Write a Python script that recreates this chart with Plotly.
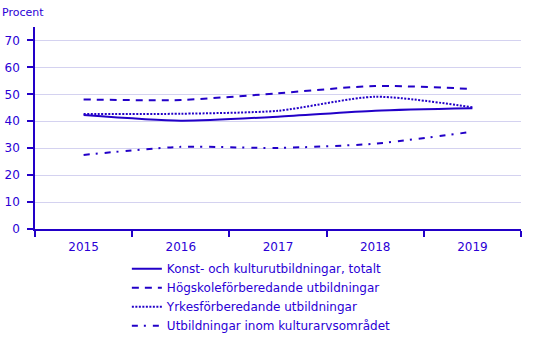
import plotly.graph_objects as go

years = [2015, 2016, 2017, 2018, 2019]
year_labels = ["2015", "2016", "2017", "2018", "2019"]
totalt = [42.3, 40.2, 41.7, 43.9, 44.8]
hogskole = [48.1, 47.9, 50.4, 53.1, 52.0]
yrkes = [42.7, 42.8, 43.9, 49.1, 45.2]
kulturarv = [27.5, 30.5, 30.1, 31.7, 36.1]

names = [
    "Konst- och kulturutbildningar, totalt",
    "Högskoleförberedande utbildningar",
    "Yrkesförberedande utbildningar",
    "Utbildningar inom kulturarvsområdet",
]
series = [totalt, hogskole, yrkes, kulturarv]
dashes = ["solid", "7px,6px", "2px,1.5px", "6px,6px,2px,7px"]

line_color = "#2200c8"
text_color = "#2a00d6"
grid_color = "#d4d2f0"
font_family = "DejaVu Sans, Liberation Sans, Arial, sans-serif"

# boundaries between the yearly categories, where the x ticks sit
bounds = [y - 0.5 for y in years] + [years[-1] + 0.5]

fig = go.Figure()
for name, vals, dash in zip(names, series, dashes):
    fig.add_trace(go.Scatter(
        x=years, y=vals, name=name, mode="lines",
        line=dict(color=line_color, width=2, dash=dash, shape="spline", smoothing=0.7),
    ))

fig.update_layout(
    width=538, height=337,
    margin=dict(l=35, r=17, t=27, b=108, autoexpand=False),
    plot_bgcolor="white", paper_bgcolor="white",
    font=dict(family=font_family, size=12, color=text_color),
    showlegend=True,
    legend=dict(
        x=0.189, y=-0.125, xanchor="left", yanchor="top",
        font=dict(size=12, color=text_color),
        tracegroupgap=0, itemwidth=30,
        bgcolor="rgba(0,0,0,0)",
    ),
    annotations=[dict(
        text="Procent", xref="paper", yref="paper", x=-0.072, y=1.03,
        xanchor="left", yanchor="bottom", showarrow=False,
        font=dict(size=11, color=text_color),
    )],
)

fig.update_xaxes(
    range=[bounds[0], bounds[-1]], tickvals=years, ticktext=year_labels,
    showline=True, linecolor=line_color, linewidth=1.5,
    ticks="", ticklabelstandoff=6,
    minor=dict(tickmode="array", tickvals=bounds, ticks="outside", ticklen=6,
               tickcolor=line_color, tickwidth=1.5, showgrid=False),
    showgrid=False, zeroline=False, tickfont=dict(size=12, color=text_color),
)
fig.update_yaxes(
    range=[0, 75], tickvals=[0, 10, 20, 30, 40, 50, 60, 70],
    showline=True, linecolor=line_color, linewidth=1.5,
    ticks="outside", ticklen=6, tickcolor=line_color, tickwidth=1.5,
    ticklabelstandoff=5,
    showgrid=True, gridcolor=grid_color, gridwidth=1,
    zeroline=False, tickfont=dict(size=12, color=text_color),
)

fig.write_html("out.html")
